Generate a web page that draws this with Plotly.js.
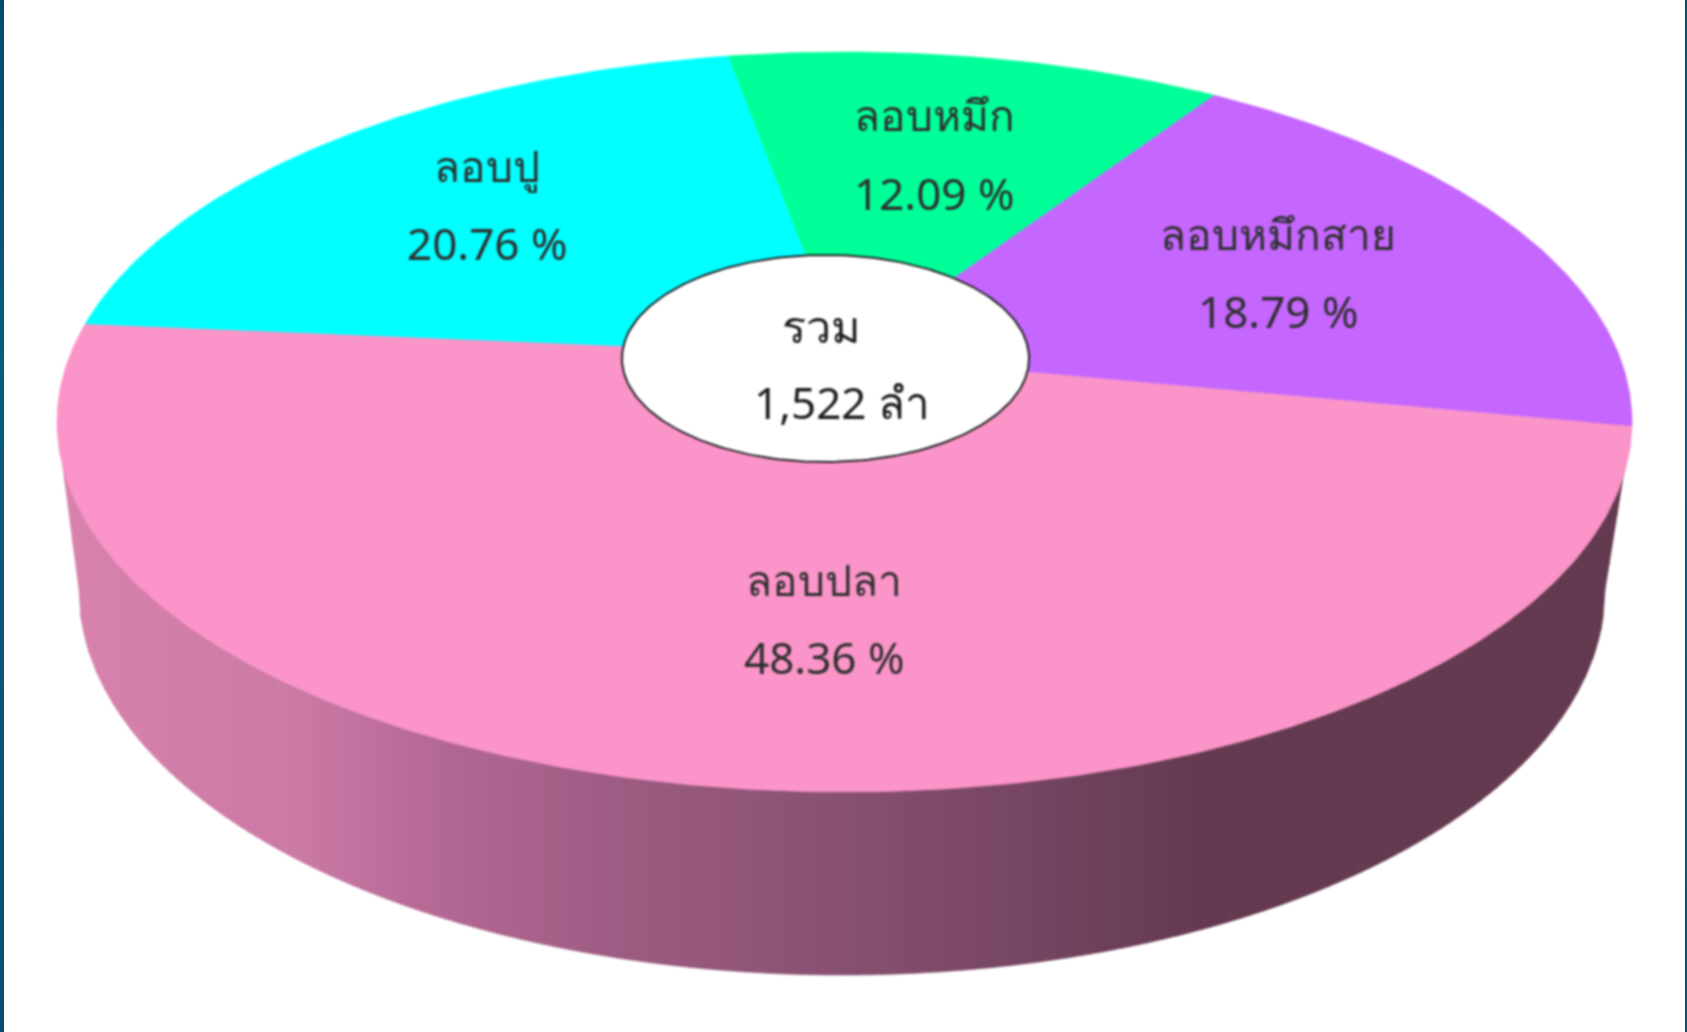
<!DOCTYPE html>
<html lang="th">
<head>
<meta charset="utf-8">
<script src="https://cdn.plot.ly/plotly-3.0.1.min.js"></script>
<style>
html,body{margin:0;padding:0;background:#fff;width:1687px;height:1032px;overflow:hidden}
#chart{position:absolute;left:0;top:0;width:1687px;height:1032px;filter:blur(0.9px)}
.edge{position:absolute;top:0;height:1032px;background:linear-gradient(#004c6b,#0a5b80 35%,#0b4d70);z-index:5}
</style>
</head>
<body>
<div class="edge" style="left:0;width:4px"></div>
<div class="edge" style="right:0;width:2px"></div>
<div id="chart"></div>
<script>
// Data
const categories = ['ลอบปลา', 'ลอบปู', 'ลอบหมึก', 'ลอบหมึกสาย'];
const percents = [48.36, 20.76, 12.09, 18.79];
const sliceColors = ['#fb94c8', '#00ffff', '#00ff99', '#c566ff'];
const totalLabel = 'รวม';
const totalValue = '1,522 ลำ';
const labelX = [824, 487, 934, 1278];
const labelNameY = [579, 165, 114, 233];
const labelValueY = [657, 243, 193, 311];

// Projection of the disc: ellipse rim with the pie's centre displaced by perspective
const rim = {cx: 844.5, cy: 422, a: 787.5, b: 370};
const apex = {x: 844.5, y: 355};
const startDeg = 11.0;
const hole = {cx: 825.5, cy: 358.5, a: 203.5, b: 103.5};
const base = {cx: 842, cy: 590, a: 763, b: 385};
const textColor = '#2f2f2f';
const nameSize = 42.5;
const valueSize = 44;

const px = (apex.x - rim.cx) / rim.a, py = (apex.y - rim.cy) / rim.b;
function rimPoint(deg) {
  const t = deg * Math.PI / 180, wx = Math.cos(t), wy = Math.sin(t);
  const p2 = px * px + py * py, g = 1 / Math.sqrt(1 - p2), d = px * wx + py * wy;
  const T = g * (1 + d), k = (g - 1) / p2 * d + g;
  return [rim.cx + rim.a * (wx + k * px) / T, rim.cy + rim.b * (wy + k * py) / T];
}
const traces = [];

// Side wall: vertical bands shaded left to right
const shadeStops = [[57,[216,131,174]],[300,[203,121,165]],[450,[178,103,146]],[650,[154,90,128]],
  [850,[135,80,112]],[1050,[115,68,96]],[1200,[100,58,80]],[1632,[100,58,80]]];
function shade(x) {
  for (let i = 1; i < shadeStops.length; i++) {
    if (x <= shadeStops[i][0]) {
      const [x0, c0] = shadeStops[i-1], [x1, c1] = shadeStops[i], f = (x - x0) / (x1 - x0);
      return 'rgb(' + c0.map((c, j) => Math.round(c + (c1[j] - c) * f)).join(',') + ')';
    }
  }
  return 'rgb(100,58,80)';
}
function wallBottom(x) {
  const L = base.cx - base.a, R = base.cx + base.a;
  if (x < L) return rim.cy + (base.cy - rim.cy) * (x - (rim.cx - rim.a)) / (L - (rim.cx - rim.a));
  if (x > R) return rim.cy + (base.cy - rim.cy) * ((rim.cx + rim.a) - x) / ((rim.cx + rim.a) - R);
  const d = (x - base.cx) / base.a;
  return base.cy + base.b * Math.sqrt(Math.max(0, 1 - d * d));
}
const bandW = 8;
for (let x0 = rim.cx - rim.a; x0 < rim.cx + rim.a; x0 += bandW) {
  const xs = [], ys = [], x1 = Math.min(x0 + bandW, rim.cx + rim.a);
  xs.push(x0); ys.push(rim.cy);
  for (let i = 0; i <= 4; i++) { const x = x0 + (x1 - x0) * i / 4; xs.push(x); ys.push(wallBottom(x)); }
  xs.push(x1); ys.push(rim.cy); xs.push(x0); ys.push(rim.cy);
  const c = shade((x0 + x1) / 2);
  traces.push({type:'scatter', mode:'lines', x:xs, y:ys, fill:'toself', fillcolor:c,
    line:{color:c, width:0.6}, hoverinfo:'skip', showlegend:false});
}

// Top face: slices built from the percentages
let ang = startDeg;
percents.forEach((v, i) => {
  const span = v / percents.reduce((a, b) => a + b, 0) * 360, xs = [apex.x], ys = [apex.y];
  const n = Math.ceil(span * 1.5);
  for (let k = 0; k <= n; k++) { const p = rimPoint(ang + span * k / n); xs.push(p[0]); ys.push(p[1]); }
  xs.push(apex.x); ys.push(apex.y);
  traces.push({type:'scatter', mode:'lines', x:xs, y:ys, fill:'toself', fillcolor:sliceColors[i],
    line:{color:sliceColors[i], width:0.6}, name:categories[i], text:v.toFixed(2) + ' %',
    hoverinfo:'name+text', showlegend:false});
  ang += span;
});

// Centre hole
const hx = [], hy = [];
for (let k = 0; k <= 240; k++) {
  const t = k / 240 * 2 * Math.PI;
  hx.push(hole.cx + hole.a * Math.cos(t)); hy.push(hole.cy + hole.b * Math.sin(t));
}
traces.push({type:'scatter', mode:'lines', x:hx, y:hy, fill:'toself', fillcolor:'#ffffff',
  line:{color:'#222222', width:2}, hoverinfo:'skip', showlegend:false});

const fontFamily = 'Tahoma, "Noto Sans", "DejaVu Sans", sans-serif';
const note = (x, y, text, size, color) => ({x, y, xref:'x', yref:'y', text, showarrow:false,
  xanchor:'center', yanchor:'middle', font:{family:fontFamily, size, color}});
const annotations = [];
categories.forEach((c, i) => {
  annotations.push(note(labelX[i], labelNameY[i], c, nameSize, textColor));
  annotations.push(note(labelX[i], labelValueY[i], percents[i].toFixed(2) + ' %', valueSize, textColor));
});
annotations.push(note(821, 325, totalLabel, 45, '#1c1c1c'));
annotations.push(note(842, 402, totalValue, valueSize, '#1c1c1c'));

Plotly.newPlot('chart', traces, {
  width: 1687, height: 1032, margin: {l:0, r:0, t:0, b:0, pad:0},
  paper_bgcolor: '#ffffff', plot_bgcolor: '#ffffff', showlegend: false,
  xaxis: {range:[0,1687], visible:false, fixedrange:true},
  yaxis: {range:[1032,0], visible:false, fixedrange:true},
  annotations
}, {displayModeBar:false});
</script>
</body>
</html>
